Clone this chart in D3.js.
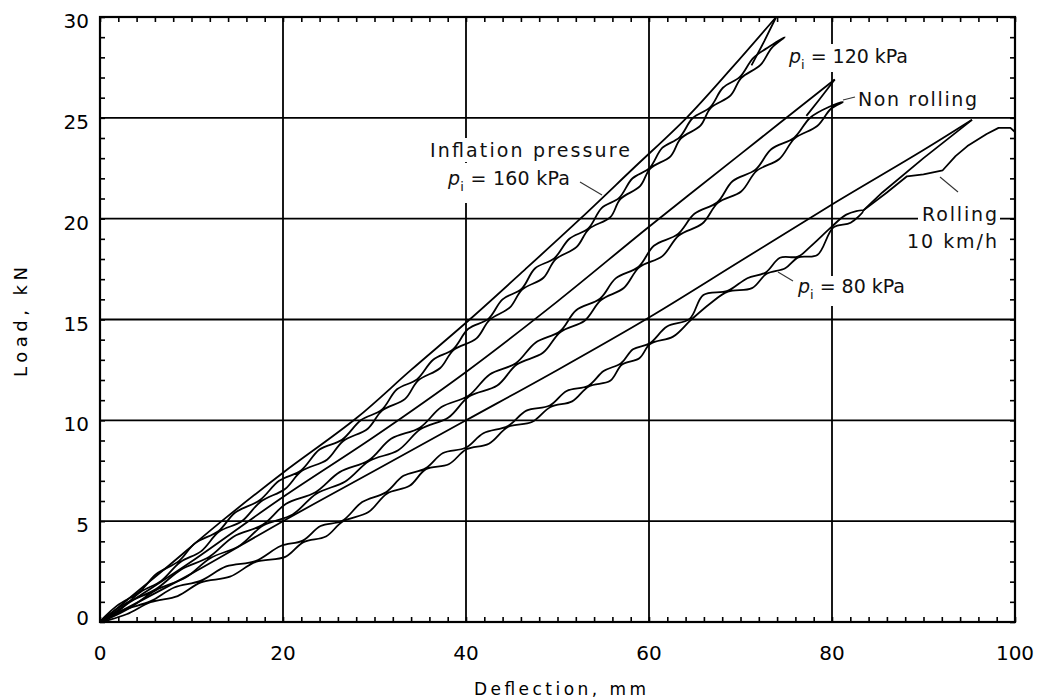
<!DOCTYPE html>
<html lang="en">
<head>
<meta charset="UTF-8">
<title>Load - deflection</title>
<script src="https://cdn.jsdelivr.net/npm/d3@7"></script>
<style>
  body { margin: 0; background: #fff; }
  svg { display: block; font-family: "DejaVu Sans", sans-serif; }
  .grid line { stroke: #000; stroke-width: 1.8px; }
  .curve { fill: none; stroke: #000; stroke-width: 1.8px; stroke-linejoin: round; }
  .lbl { font-size: 19px; fill: #111; }
</style>
</head>
<body>
<svg id="chart" width="1037" height="700"></svg>
<script>
// tick labels
var xTicks = [0, 20, 40, 60, 80, 100];
var yTicks = [0, 5, 10, 15, 20, 25, 30];

// smooth curves [deflection mm, load kN]: outer loading line, inner return line
var smooth160 = [[0,0],[3,1.1],[7,2.6],[13.3,5],[20,7.4],[28,10.1],[34,12.5],[40.4,15],[46.5,17.5],[52.5,20],[58.3,22.5],[64.1,25],[69.1,27.5],[73.9,30]];
var inner160 = [[73.9,30],[72.6,28.8],[71.2,27.6]];
var smooth120 = [[0,0],[5,1.5],[10,3.0],[20,6.2],[30,9.2],[40,12.4],[50,15.9],[60,19.6],[70,23.2],[80.3,26.9]];
var inner120 = [[80.3,26.9],[78.6,25.9],[77.2,25.1]];
var smooth80 = [[0,0],[10,2.4],[20,5.0],[30,7.5],[40,10.0],[50,12.5],[60,15.1],[70,17.9],[80,20.7],[90,23.4],[95.3,24.9]];
var inner80 = [[95.3,24.9],[90,23.0],[85.5,21.3],[83.4,20.4]];

// wavy bands: [centre deflection mm, load kN, half width (relative)]
var band160 = [[0,0,0],[2.0,0.7,0.6],[4.4,1.5,0.1],[6.4,2.2,1.0],[8.7,3.0,0.2],[10.7,3.7,1.2],[13.0,4.5,0.1],[15.1,5.2,1.3],[17.5,6.0,0.2],[19.9,6.8,1.2],[22.0,7.5,0.1],[24.4,8.3,1.5],[26.5,9.0,0.2],[28.9,9.8,1.3],[30.8,10.5,0.1],[32.9,11.3,1.5],[34.7,12.0,0.2],[36.8,12.8,1.3],[38.6,13.5,0.1],[40.7,14.3,1.5],[42.5,15.0,0.2],[44.4,15.8,1.3],[46.1,16.5,0.1],[48.0,17.3,1.5],[49.7,18.0,0.2],[51.7,18.8,1.3],[53.4,19.5,0.1],[55.3,20.3,1.5],[56.8,21.0,0.2],[58.6,21.8,1.3],[60.1,22.5,0.1],[61.9,23.3,1.4],[63.4,24.0,0.2],[65.2,24.8,1.3],[66.7,25.5,0.1],[68.5,26.3,1.3],[70.0,27.0,0.2],[71.8,27.8,1.2],[73.3,28.5,0.3],[74.6,29.1,0.7]];
var band120 = [[0,0,0],[3.0,0.8,0.7],[6.1,1.6,0.1],[9.1,2.4,1.1],[12.0,3.2,0.2],[14.9,4.0,1.3],[17.8,4.8,0.1],[20.7,5.6,1.5],[23.6,6.4,0.2],[26.5,7.2,1.3],[29.4,8.0,0.1],[32.2,8.8,1.6],[35.0,9.6,0.2],[37.7,10.4,1.5],[40.3,11.2,0.1],[43.0,12.0,1.6],[45.5,12.8,0.2],[48.0,13.6,1.5],[50.3,14.4,0.1],[52.5,15.2,1.6],[54.7,16.0,0.2],[56.8,16.8,1.5],[58.9,17.6,0.1],[61.0,18.4,1.6],[63.2,19.2,0.2],[65.4,20.0,1.5],[67.5,20.8,0.1],[69.6,21.6,1.6],[71.7,22.4,0.2],[73.8,23.2,1.5],[75.9,24.0,0.1],[78.0,24.8,1.3],[79.8,25.5,0.3],[81.0,25.9,0.7]];
var band80 = [[0,0,0],[2.8,0.5,0.6],[5.5,1.0,0.1],[8.3,1.5,1.1],[11.0,2.0,0.2],[14.0,2.5,1.3],[17.0,3.0,0.1],[20.0,3.5,1.4],[22.2,4.0,0.2],[24.4,4.5,1.4],[26.5,5.0,0.1],[29.0,5.7,1.4],[31.3,6.4,0.2],[33.5,7.0,1.4],[35.6,7.6,0.1],[37.8,8.1,1.5],[40.0,8.6,0.2],[42.2,9.1,1.4],[44.6,9.7,0.1],[46.9,10.2,1.5],[49.2,10.7,0.2],[51.3,11.2,1.4],[53.4,11.7,0.1],[55.4,12.2,1.4],[57.0,12.8,0.2],[58.6,13.3,1.3],[60.1,13.8,0.1],[62.3,14.4,1.4],[64.5,15.0,0.2],[66.3,16.0,1.3],[68.6,16.4,0.1],[71.0,16.8,1.3],[72.8,17.3,0.2],[74.6,17.8,1.4],[76.3,18.1,0.1],[78.0,18.4,1.3],[80.1,19.6,0.2],[81.8,20.0,1.1],[83.4,20.4,0]];
var tail80 = [[83.4,20.4],[86,21.3],[88.2,22.1],[90,22.2],[92.1,22.4],[93.5,23.1],[94.8,23.6],[96.9,24.2],[98.2,24.5],[99.5,24.5],[100,24.3]];

var svg = d3.select("#chart");
var x = d3.scaleLinear().domain([0, 100]).range([100, 1015]);
var y = d3.scaleLinear().domain([0, 30]).range([622, 17]);
var line = d3.line().x(function(d) { return x(d[0]); }).y(function(d) { return y(d[1]); });
var bandPx = 4.2; // pixels per unit of half width

// grid
var grid = svg.append("g").attr("class", "grid");
grid.selectAll(".gx").data(xTicks.slice(1, -1)).enter().append("line")
    .attr("x1", function(d) { return x(d); }).attr("x2", function(d) { return x(d); })
    .attr("y1", y(0)).attr("y2", y(30));
grid.selectAll(".gy").data(yTicks.slice(1, -1)).enter().append("line")
    .attr("x1", x(0)).attr("x2", x(100))
    .attr("y1", function(d) { return y(d); }).attr("y2", function(d) { return y(d); });

// minor ticks pointing inward
var minorX = x.ticks(50), minorY = y.ticks(30);
svg.append("g").attr("transform", "translate(0," + y(0) + ")")
    .call(d3.axisTop(x).tickValues(minorX).tickSize(5).tickFormat(""));
svg.append("g").attr("transform", "translate(0," + y(30) + ")")
    .call(d3.axisBottom(x).tickValues(minorX).tickSize(5).tickFormat(""));
svg.append("g").attr("transform", "translate(" + x(0) + ",0)")
    .call(d3.axisRight(y).tickValues(minorY).tickSize(5).tickFormat(""));
svg.append("g").attr("transform", "translate(" + x(100) + ",0)")
    .call(d3.axisLeft(y).tickValues(minorY).tickSize(5).tickFormat(""));
svg.selectAll(".domain").remove();
svg.selectAll(".tick line").attr("stroke", "#000").attr("stroke-width", 1.6);

// frame
svg.append("rect").attr("x", x(0)).attr("y", y(30))
    .attr("width", x(100) - x(0)).attr("height", y(0) - y(30))
    .attr("fill", "none").attr("stroke", "#000").attr("stroke-width", 2.2);

// tick labels
svg.append("g").selectAll("text").data(xTicks).enter().append("text")
    .attr("x", function(d) { return x(d); }).attr("y", 660)
    .attr("text-anchor", "middle").attr("font-size", 20).text(function(d) { return d; });
svg.append("g").selectAll("text").data(yTicks).enter().append("text")
    .attr("x", 89).attr("y", function(d) { return d === 0 ? y(d) + 3 : y(d) + 11; })
    .attr("text-anchor", "end").attr("font-size", 20).text(function(d) { return d; });

// axis titles
svg.append("text").attr("x", 560).attr("y", 695).attr("text-anchor", "middle")
    .attr("font-size", 17).attr("textLength", 172).text("Deflection, mm");
svg.append("text").attr("transform", "translate(27,322) rotate(-90)").attr("text-anchor", "middle")
    .attr("font-size", 18).attr("textLength", 110).text("Load, kN");

// white boxes behind labels hide the grid
var boxes = [[428, 138, 204, 24], [444, 163, 130, 40], [786, 44, 126, 28], [855, 88, 126, 24],
             [918, 200, 82, 26], [903, 229, 97, 24], [795, 276, 112, 30]];
svg.append("g").selectAll("rect").data(boxes).enter().append("rect")
    .attr("x", function(d) { return d[0]; }).attr("y", function(d) { return d[1]; })
    .attr("width", function(d) { return d[2]; }).attr("height", function(d) { return d[3]; })
    .attr("fill", "#fff");

// curves
var g = svg.append("g");
var pxLine = d3.line().curve(d3.curveCatmullRomClosed);
[band160, band120, band80].forEach(function(b) {
  // offset each node perpendicular to the band in screen space
  var pts = b.map(function(d) { return [x(d[0]), y(d[1]), d[2] * bandPx]; });
  var left = [], right = [];
  pts.forEach(function(p, i) {
    var a = pts[Math.max(i - 1, 0)], c = pts[Math.min(i + 1, pts.length - 1)];
    var dx = c[0] - a[0], dy = c[1] - a[1], len = Math.hypot(dx, dy);
    var nx = dy / len, ny = -dx / len;
    left.push([p[0] - nx * p[2], p[1] - ny * p[2]]);
    right.push([p[0] + nx * p[2], p[1] + ny * p[2]]);
  });
  g.append("path").attr("class", "curve")
      .attr("d", pxLine(left.concat(right.reverse().slice(1, -1))));
});
[smooth160, smooth120, smooth80].forEach(function(s) {
  g.append("path").attr("class", "curve").attr("d", line.curve(d3.curveCatmullRom)(s));
});
line.curve(d3.curveLinear);
[inner160, inner120, inner80, tail80].forEach(function(s) {
  g.append("path").attr("class", "curve").attr("d", line(s));
});

// leader lines
var leaders = [[580, 182, 602, 195], [843, 100, 855, 97], [940, 177, 958, 192], [778, 272, 793, 281]];
svg.append("g").selectAll("line").data(leaders).enter().append("line")
    .attr("x1", function(d) { return d[0]; }).attr("y1", function(d) { return d[1]; })
    .attr("x2", function(d) { return d[2]; }).attr("y2", function(d) { return d[3]; })
    .attr("stroke", "#333").attr("stroke-width", 1.1);

// labels
function pLabel(px, py, rest, len) {
  var t = svg.append("text").attr("class", "lbl").attr("x", px).attr("y", py)
      .attr("textLength", len).attr("lengthAdjust", "spacing");
  t.append("tspan").attr("font-style", "italic").text("p");
  t.append("tspan").attr("dy", 6).attr("font-size", 13).text("i");
  t.append("tspan").attr("dy", -6).text(" = " + rest);
}
svg.append("text").attr("class", "lbl").attr("x", 430).attr("y", 157).attr("font-size", 20)
    .attr("textLength", 200).attr("lengthAdjust", "spacing").text("Inflation pressure");
pLabel(448, 185, "160 kPa", 122);
pLabel(789, 63, "120 kPa", 119);
pLabel(798, 293, "80 kPa", 107);
svg.append("text").attr("class", "lbl").attr("x", 858).attr("y", 106).attr("font-size", 20)
    .attr("textLength", 119).attr("lengthAdjust", "spacing").text("Non rolling");
svg.append("text").attr("class", "lbl").attr("x", 922).attr("y", 221).attr("font-size", 20)
    .attr("textLength", 75).attr("lengthAdjust", "spacing").text("Rolling");
svg.append("text").attr("class", "lbl").attr("x", 907).attr("y", 248).attr("font-size", 20)
    .attr("textLength", 90).attr("lengthAdjust", "spacing").text("10 km/h");
</script>
</body>
</html>
